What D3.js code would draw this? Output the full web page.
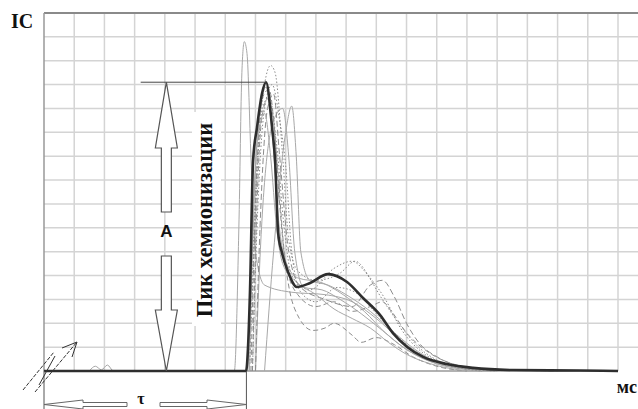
<!DOCTYPE html>
<html lang="ru">
<head>
    <meta charset="UTF-8">
    <title>Пик хемионизации</title>
    <style>
        body { margin: 0; background-color: #fff; }
        svg { display: block; }
    </style>
</head>
<body>
    <svg width="638" height="409"></svg>

    <script src="https://d3js.org/d3.v7.min.js"></script>
    <script>
        // grid: 19 columns (ms), 15 rows (IC)
        const xTicks = d3.range(0, 20);
        const yTicks = d3.range(0, 16);

        // thick mean curve [ms, IC]
        const mainCurve = [[0,0],[6.69,0],[6.75,0.9],[6.82,3.4],[6.92,8.8],[7.05,10.2],[7.22,11.65],[7.35,12.1],
            [7.55,10.2],[7.65,8.8],[7.75,5.8],[7.88,4.94],[8.08,4.15],[8.37,3.52],[8.81,3.69],[9.4,4.06],
            [10.03,3.73],[10.56,3.06],[11.12,2.35],[11.55,1.59],[12.02,1.01],[12.55,0.59],[13.34,0.29],
            [14.2,0.13],[15.52,0.04],[17.74,0.02],[19,0]];

        // individual shots (thin gray)
        const shot1 = [[1.5,0],[1.7,0.2],[1.9,0.05],[2.1,0.25],[2.3,0],[6.3,0],[6.45,6],[6.55,12.5],[6.63,13.8],[6.72,13.3],[6.85,9],[7.0,5],[7.3,3.6],[8.2,3.3],[9.3,3.2],[10.2,2.9],[11.0,2.2],[11.8,1.3],[12.6,0.6],[13.5,0.2],[15,0]];
        const shot2 = [[6.8,0],[6.95,6],[7.2,11],[7.5,12.8],[7.65,12.5],[7.9,9],[8.1,5.5],[8.4,4.2],[9,3.8],[9.8,4.1],[10.3,4.6],[10.8,3.9],[11.3,3],[11.8,1.8],[12.5,0.8],[13.3,0.3],[14.5,0]];
        const shot3 = [[7.0,0],[7.2,6],[7.6,10.5],[7.9,11.0],[8.1,9],[8.3,5],[8.6,3.5],[9.2,3.4],[9.8,3.0],[10.5,2.4],[11.2,1.7],[12,0.9],[13,0.3],[14.5,0]];
        const shot4 = [[7.3,0],[7.6,5],[8.0,10],[8.2,11.1],[8.35,9],[8.5,5],[8.8,3.8],[9.4,3.6],[10,3.2],[10.8,2.5],[11.6,1.6],[12.4,0.8],[13.4,0.2],[15,0]];
        const shot5 = [[6.9,0],[7.0,5],[7.2,10.5],[7.4,11.4],[7.6,10.5],[7.8,7],[8.0,4.5],[8.4,3.2],[9.0,2.7],[9.6,2.9],[10.2,2.5],[10.8,2.7],[11.2,2.9],[11.5,2.5],[12,1.6],[12.6,0.9],[13.3,0.4],[14.5,0.1],[17,0]];
        const shot6 = [[6.85,0],[7.0,7],[7.25,11.5],[7.45,11.8],[7.7,9],[7.95,5],[8.3,2.6],[8.9,1.7],[9.3,1.8],[9.6,2.0],[10.2,1.5],[10.5,1.2],[11,1.4],[11.6,1.1],[12.2,0.6],[13,0.2],[14,0]];
        const shot7 = [[6.8,0],[6.95,5],[7.2,10.8],[7.45,11.5],[7.7,9.5],[7.95,6],[8.2,4],[8.8,3.4],[9.6,4.3],[10.2,4.6],[10.6,4.2],[11.2,3.0],[11.8,1.9],[12.4,1.0],[13.1,0.4],[14,0.1],[15,0]];
        const shot8 = [[7.0,0],[7.15,6],[7.4,11],[7.6,11.6],[7.8,9],[8.1,5],[8.5,3.5],[9.3,3.0],[10.2,2.7],[10.8,3.6],[11.2,3.8],[11.6,3.1],[12,2.0],[12.4,1.2],[13,0.6],[13.8,0.2],[15.5,0]];
        const shot9 = [[6.75,0],[6.9,6],[7.1,10],[7.3,10.8],[7.5,9],[7.7,6],[7.9,4.5],[8.3,3.8],[9.0,3.2],[9.6,2.6],[10.2,2.2],[10.8,1.8],[11.4,1.2],[12,0.7],[12.8,0.3],[14,0]];
        const shot10 = [[6.8,0],[6.95,7],[7.15,11],[7.35,11.9],[7.55,10],[7.75,6.5],[8.0,4.6],[8.4,3.9],[9.2,3.7],[9.9,3.2],[10.6,2.5],[11.3,1.6],[12,0.9],[12.8,0.4],[14,0.1],[16,0]];
        const shot11 = [[6.9,0],[7.05,6],[7.3,11],[7.55,12],[7.8,10.5],[8.0,8.6],[8.2,5],[8.5,3.3],[9.0,2.9],[9.7,3.5],[10.3,3.3],[11,2.4],[11.6,1.6],[12.3,0.8],[13.2,0.3],[14.5,0]];

        const shots = [
            {data: shot1, dash: null},
            {data: shot2, dash: "1.5,2"},
            {data: shot3, dash: null},
            {data: shot4, dash: null},
            {data: shot5, dash: "5,3"},
            {data: shot6, dash: "5,3"},
            {data: shot7, dash: "1.5,2"},
            {data: shot8, dash: "6,3"},
            {data: shot9, dash: null},
            {data: shot10, dash: null},
            {data: shot11, dash: "1.5,2"}
        ];

        const peakX = 7.35, peakY = 12.1;  // chemi-ionisation peak
        const delay = 6.7;                 // time to ignition

        const svg = d3.select("svg");
        const x = d3.scaleLinear().domain([0, 19]).range([44, 618]);
        const y = d3.scaleLinear().domain([0, 15]).range([371, 13]);

        // grid
        svg.append("g").selectAll("line")
            .data(xTicks.slice(1))
            .enter().append("line")
            .attr("x1", d => x(d)).attr("x2", d => x(d))
            .attr("y1", y(15)).attr("y2", y(0))
            .attr("stroke", "#d4d4d4").attr("stroke-width", 1.5);
        svg.append("g").selectAll("line")
            .data(yTicks.slice(1, -1))
            .enter().append("line")
            .attr("x1", x(0)).attr("x2", 638)
            .attr("y1", d => y(d)).attr("y2", d => y(d))
            .attr("stroke", "#d4d4d4").attr("stroke-width", 1.5);
        svg.append("line")
            .attr("x1", x(0)).attr("x2", 638).attr("y1", y(15)).attr("y2", y(15))
            .attr("stroke", "#8a8a8a").attr("stroke-width", 2);
        svg.append("line")
            .attr("x1", x(0)).attr("x2", x(0)).attr("y1", y(15)).attr("y2", y(0))
            .attr("stroke", "#999").attr("stroke-width", 1.5);
        svg.append("line")
            .attr("x1", x(0)).attr("x2", x(19)).attr("y1", y(0)).attr("y2", y(0))
            .attr("stroke", "#999").attr("stroke-width", 1.5);

        // white box behind the rotated label
        svg.append("rect")
            .attr("x", 192).attr("y", 112).attr("width", 29).attr("height", 214)
            .attr("fill", "#fff");

        const line = d3.line()
            .x(d => x(d[0]))
            .y(d => y(d[1]))
            .curve(d3.curveMonotoneX);

        svg.append("g").selectAll("path")
            .data(shots)
            .enter().append("path")
            .attr("d", d => line(d.data))
            .attr("fill", "none")
            .attr("stroke", d => d.dash ? "#8c8c8c" : "#a8a8a8")
            .attr("stroke-width", 1)
            .attr("stroke-dasharray", d => d.dash);

        svg.append("path")
            .attr("d", line(mainCurve))
            .attr("fill", "none")
            .attr("stroke", "#2e2e2e")
            .attr("stroke-width", 2.6);

        // amplitude marker
        const ax = x(4.05);
        svg.append("line")
            .attr("x1", x(3.2)).attr("x2", x(peakX)).attr("y1", y(peakY)).attr("y2", y(peakY))
            .attr("stroke", "#444").attr("stroke-width", 1);

        function vArrow(tipY, baseY, endY) {
            return `M${ax},${tipY} L${ax + 11},${baseY} L${ax + 5},${baseY} L${ax + 5},${endY} ` +
                `L${ax - 5},${endY} L${ax - 5},${baseY} L${ax - 11},${baseY} Z`;
        }
        svg.append("path").attr("d", vArrow(y(peakY), 148, 212))
            .attr("fill", "#fff").attr("stroke", "#555").attr("stroke-width", 1.2);
        svg.append("path").attr("d", vArrow(y(0), 310, 256))
            .attr("fill", "#fff").attr("stroke", "#555").attr("stroke-width", 1.2);

        svg.append("text")
            .attr("x", ax).attr("y", 237)
            .attr("text-anchor", "middle")
            .attr("font-family", "Liberation Sans, Arial, sans-serif")
            .attr("font-weight", "bold").attr("font-size", 17)
            .attr("fill", "#111")
            .text("A");

        svg.append("text")
            .attr("transform", "translate(212,220) rotate(-90)")
            .attr("text-anchor", "middle")
            .attr("font-family", "Liberation Serif, Times New Roman, serif")
            .attr("font-weight", "bold").attr("font-size", 22.5)
            .attr("fill", "#111")
            .text("Пик хемионизации");

        // delay bracket
        [x(0), x(delay)].forEach(px => {
            svg.append("line")
                .attr("x1", px).attr("x2", px).attr("y1", y(0)).attr("y2", 409)
                .attr("stroke", "#555").attr("stroke-width", 1);
        });
        const cy = 404.5;
        function hArrow(tipX, baseX, endX) {
            return `M${tipX},${cy} L${baseX},${cy - 4.5} L${baseX},${cy - 2} L${endX},${cy - 2} ` +
                `L${endX},${cy + 2} L${baseX},${cy + 2} L${baseX},${cy + 4.5} Z`;
        }
        svg.append("path").attr("d", hArrow(x(0), 83, 127))
            .attr("fill", "#fff").attr("stroke", "#666").attr("stroke-width", 1);
        svg.append("path").attr("d", hArrow(x(delay), 207, 160))
            .attr("fill", "#fff").attr("stroke", "#666").attr("stroke-width", 1);
        svg.append("text")
            .attr("x", 141).attr("y", 404)
            .attr("text-anchor", "middle")
            .attr("font-family", "Liberation Serif, Times New Roman, serif")
            .attr("font-weight", "bold").attr("font-size", 16)
            .attr("fill", "#111")
            .text("τ");

        // hand-drawn start mark
        const mark = svg.append("g").attr("fill", "none").attr("stroke", "#333").attr("stroke-width", 1);
        mark.append("path").attr("d", "M23,390 L54,352").attr("stroke-dasharray", "4,1.5");
        mark.append("path").attr("d", "M35,392 L77,342").attr("stroke-dasharray", "4,1.5");
        mark.append("path").attr("d", "M39,385 L55,356");
        mark.append("path").attr("d", "M62,348 L77,342 L72,357");

        // axis labels
        svg.append("text")
            .attr("x", 11).attr("y", 28)
            .attr("font-family", "Liberation Serif, Times New Roman, serif")
            .attr("font-weight", "bold").attr("font-size", 20)
            .attr("fill", "#111")
            .text("IC");
        svg.append("text")
            .attr("x", 637).attr("y", 393)
            .attr("text-anchor", "end")
            .attr("font-family", "Liberation Serif, Times New Roman, serif")
            .attr("font-weight", "bold").attr("font-size", 18)
            .attr("fill", "#111")
            .text("мс");
    </script>
</body>
</html>
